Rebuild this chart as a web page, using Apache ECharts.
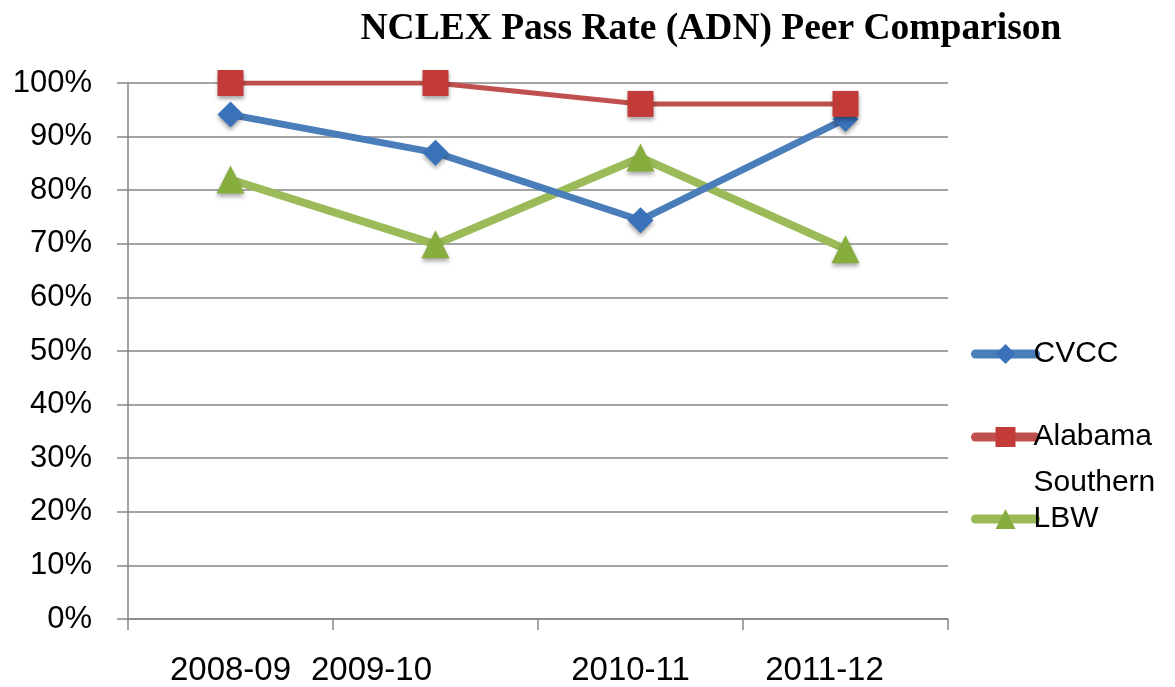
<!DOCTYPE html>
<html>
<head>
<meta charset="utf-8">
<script src="https://cdn.jsdelivr.net/npm/echarts@6/dist/echarts.min.js"></script>
<style>html,body{margin:0;padding:0;background:#fff;}#c{width:1175px;height:687px;}</style>
</head>
<body>
<div id="c"></div>
<script>
var titleText = 'NCLEX Pass Rate (ADN) Peer Comparison';
var categories = ['2008-09', '2009-10', '2010-11', '2011-12'];
var cvcc = [0.941, 0.870, 0.744, 0.933];
var alabama = [1.00, 1.00, 0.961, 0.961];
var lbw = [0.820, 0.699, 0.861, 0.690];
var seriesNames = ['CVCC', 'Alabama Southern', 'LBW'];

// horizontal nudges of the category labels (as in the original picture)
var labelShift = [0, -64, -10, -21];

var chart = echarts.init(document.getElementById('c'), null, {renderer: 'canvas'});
var rich = {};
labelShift.forEach(function (s, i) {
  rich['l' + i] = {
    fontFamily: 'Liberation Sans', fontSize: 33, color: '#000',
    padding: s < 0 ? [0, -2 * s, 0, 0] : [0, 0, 0, 2 * s]
  };
});
var shadow = {shadowColor: 'rgba(0,0,0,0.35)', shadowBlur: 4, shadowOffsetY: 3};
function legendCfg(name, top, extra) {
  var o = {
    data: [name], left: 966, top: top, orient: 'vertical',
    itemWidth: 60, itemHeight: 25, itemGap: 0,
    textStyle: {fontFamily: 'Liberation Sans', fontSize: 30, color: '#000', padding: [0, 0, 0, -7]},
    lineStyle: {width: 9, cap: 'round'},
    itemStyle: {shadowBlur: 0, shadowOffsetY: 0},
    selectedMode: false
  };
  if (extra) { for (var k in extra) o[k] = extra[k]; }
  return o;
}
var option = {
  animation: false,
  backgroundColor: '#fff',
  title: {
    text: titleText, left: 706, top: 5, textAlign: 'center',
    textStyle: {fontFamily: 'Liberation Serif', fontWeight: 'bold', fontSize: 37.5, color: '#000'}
  },
  legend: [
    legendCfg(seriesNames[0], 334),
    legendCfg(seriesNames[1], 363, {
      formatter: function () { return ' \nAlabama\nSouthern'; },
      textStyle: {fontFamily: 'Liberation Sans', fontSize: 30, color: '#000', lineHeight: 46, padding: [0, 0, 0, -7]}
    }),
    legendCfg(seriesNames[2], 499)
  ],
  grid: {left: 128, right: 227, top: 83, bottom: 65},
  xAxis: {
    type: 'category', data: categories, boundaryGap: true,
    axisLine: {lineStyle: {color: '#868686', width: 1.5}},
    axisTick: {show: true, length: 11, inside: false, lineStyle: {color: '#868686', width: 1.5}},
    axisLabel: {
      margin: 35,
      formatter: function (v, i) { return '{l' + i + '|' + v + '}'; },
      rich: rich
    }
  },
  yAxis: {
    type: 'value', min: 0, max: 1, interval: 0.1,
    axisLine: {show: true, lineStyle: {color: '#868686', width: 1.5}},
    axisTick: {show: true, length: 11, lineStyle: {color: '#868686', width: 1.5}},
    splitLine: {lineStyle: {color: '#868686', width: 1.5}},
    axisLabel: {
      margin: 36, fontFamily: 'Liberation Sans', fontSize: 31, color: '#000',
      formatter: function (v) { return Math.round(v * 100) + '%'; }
    }
  },
  series: [
    {
      name: seriesNames[0], type: 'line', data: cvcc, z: 4,
      symbol: 'diamond', symbolSize: 26,
      lineStyle: {color: '#4a7ebb', width: 7},
      itemStyle: Object.assign({color: '#3a72b9'}, shadow)
    },
    {
      name: seriesNames[1], type: 'line', data: alabama, z: 5,
      symbol: 'rect', symbolSize: 26,
      lineStyle: {color: '#c0504d', width: 5},
      itemStyle: Object.assign({color: '#c23b39'}, shadow)
    },
    {
      name: seriesNames[2], type: 'line', data: lbw, z: 3,
      symbol: 'triangle', symbolSize: 28,
      lineStyle: {color: '#9bbb59', width: 8},
      itemStyle: Object.assign({color: '#86ad3e'}, shadow)
    }
  ]
};
chart.setOption(option);
</script>
</body>
</html>
